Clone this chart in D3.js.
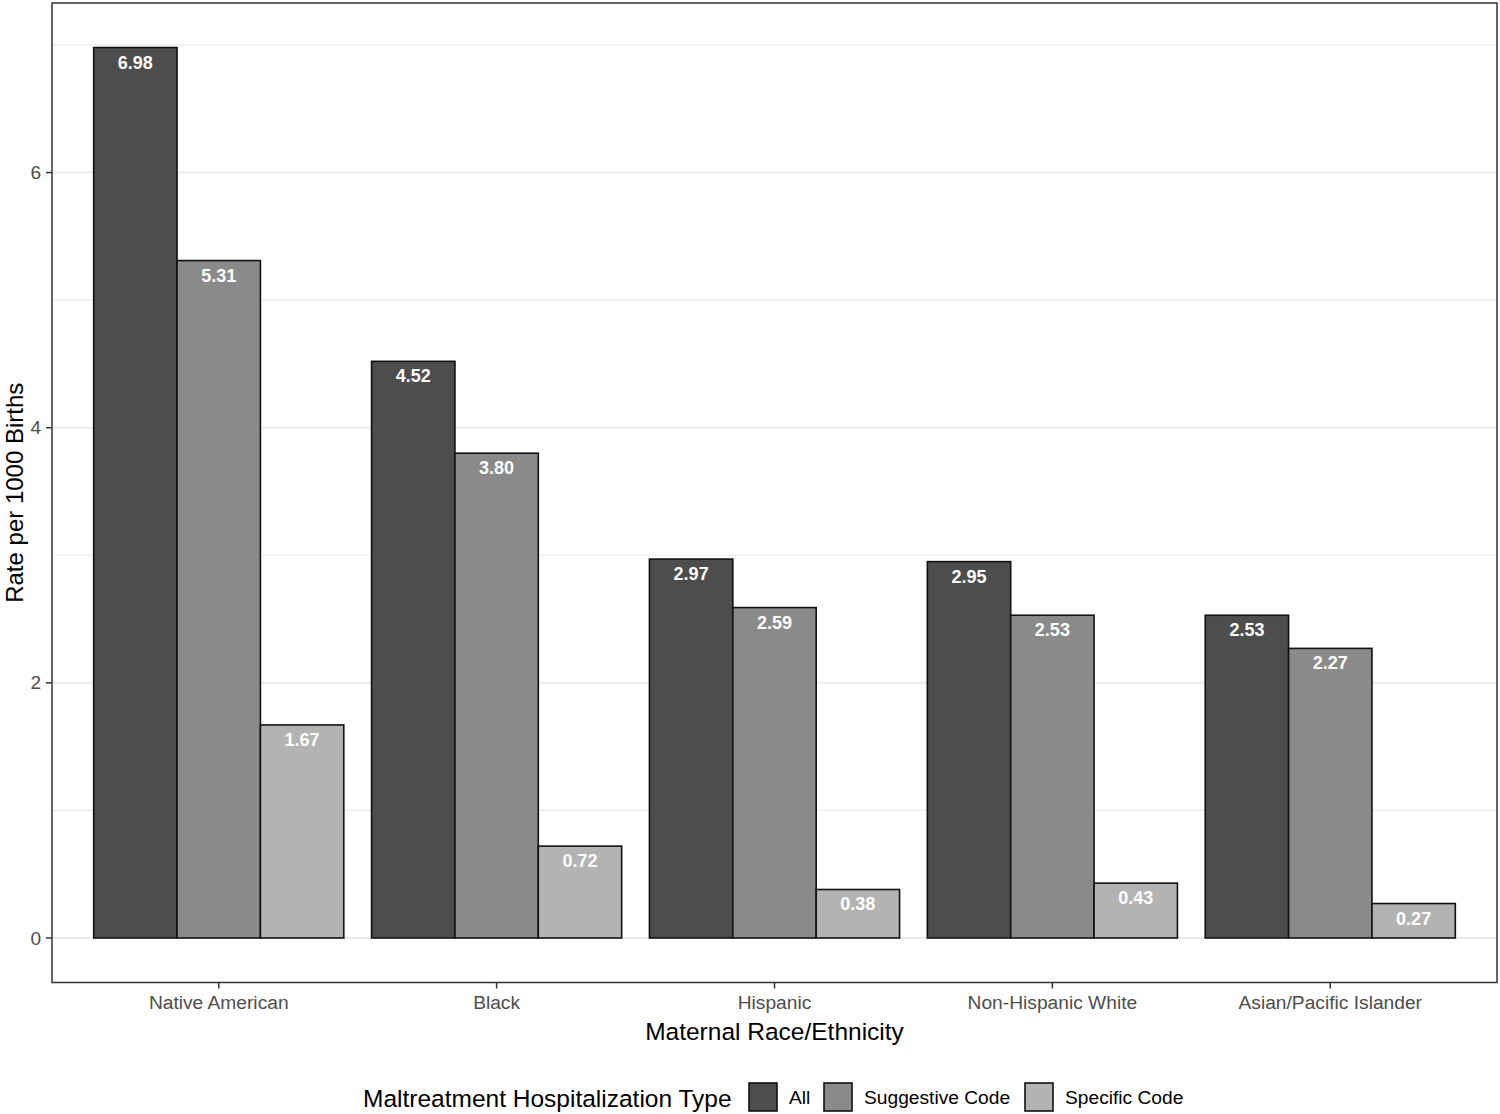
<!DOCTYPE html>
<html><head><meta charset="utf-8">
<script src="https://cdn.jsdelivr.net/npm/d3@7"></script>
<style>body{margin:0;background:#fff}svg{display:block}text{font-family:"Liberation Sans",Arial,sans-serif}</style>
</head><body>
<svg id="c" width="1500" height="1114"></svg>
<script>
const categories = ["Native American","Black","Hispanic","Non-Hispanic White","Asian/Pacific Islander"];
const seriesNames = ["All","Suggestive Code","Specific Code"];
const allValues = [6.98,4.52,2.97,2.95,2.53];
const suggestiveValues = [5.31,3.80,2.59,2.53,2.27];
const specificValues = [1.67,0.72,0.38,0.43,0.27];
const yTicks = [0,2,4,6];
const yMinor = [1,3,5,7];
const colors = ["#4d4d4d","#8a8a8a","#b3b3b3"];

const series = [allValues, suggestiveValues, specificValues];
const svg = d3.select("#c");
const L = 52, R = 1497, T = 3, B = 982.5;
const maxV = d3.max(series.flat());
const pad = maxV*0.05;
const y = d3.scaleLinear().domain([-pad, maxV+pad]).range([B, T]);
// ggplot discrete expand: 0.6 units each side
const unit = (R-L)/(categories.length-1+1.2);
const cx = d3.scalePoint().domain(categories).range([L+0.6*unit, R-0.6*unit]);
const groupW = 0.9*unit;
const inner = d3.scaleBand().domain(seriesNames).range([-groupW/2, groupW/2]).padding(0);

// grid
const g = svg.append("g");
g.selectAll(".minor").data(yMinor).join("line")
  .attr("x1",L).attr("x2",R).attr("y1",d=>y(d)).attr("y2",d=>y(d))
  .attr("stroke","#ebebeb").attr("stroke-width",1.2);
g.selectAll(".major").data(yTicks).join("line")
  .attr("x1",L).attr("x2",R).attr("y1",d=>y(d)).attr("y2",d=>y(d))
  .attr("stroke","#ebebeb").attr("stroke-width",2);

// bars
const rows = [];
categories.forEach((c,i)=>seriesNames.forEach((s,j)=>rows.push({c,s,j,v:series[j][i]})));
svg.append("g").selectAll("rect").data(rows).join("rect")
  .attr("x",d=>cx(d.c)+inner(d.s)).attr("width",inner.bandwidth())
  .attr("y",d=>y(d.v)).attr("height",d=>y(0)-y(d.v))
  .attr("fill",d=>colors[d.j]).attr("stroke","#111").attr("stroke-width",1.6);

svg.append("g").selectAll("text").data(rows).join("text")
  .attr("x",d=>cx(d.c)+inner(d.s)+inner.bandwidth()/2).attr("y",d=>y(d.v)+21)
  .attr("text-anchor","middle").attr("fill","#fff").attr("font-weight","bold").attr("font-size",18)
  .text(d=>d.v.toFixed(2));

// panel border
svg.append("rect").attr("x",L).attr("y",T).attr("width",R-L).attr("height",B-T)
  .attr("fill","none").attr("stroke","#333").attr("stroke-width",1.5);

// y axis
const ya = svg.append("g");
ya.selectAll("line").data(yTicks).join("line")
  .attr("x1",L-6).attr("x2",L).attr("y1",d=>y(d)).attr("y2",d=>y(d)).attr("stroke","#333").attr("stroke-width",1.5);
ya.selectAll("text").data(yTicks).join("text")
  .attr("x",L-11).attr("y",d=>y(d)).attr("dy","0.35em").attr("text-anchor","end")
  .attr("fill","#4d4d4d").attr("font-size",19).text(d=>d);

// x axis
const xa = svg.append("g");
xa.selectAll("line").data(categories).join("line")
  .attr("x1",d=>cx(d)).attr("x2",d=>cx(d)).attr("y1",B).attr("y2",B+6).attr("stroke","#333").attr("stroke-width",1.5);
xa.selectAll("text").data(categories).join("text")
  .attr("x",d=>cx(d)).attr("y",1009).attr("text-anchor","middle")
  .attr("fill","#4d4d4d").attr("font-size",19.2).text(d=>d);

svg.append("text").attr("x",(L+R)/2).attr("y",1040).attr("text-anchor","middle")
  .attr("font-size",24.5).attr("fill","#000").text("Maternal Race/Ethnicity");
svg.append("text").attr("transform",`translate(22.5,${(T+B)/2}) rotate(-90)`).attr("text-anchor","middle")
  .attr("font-size",24).attr("fill","#000").text("Rate per 1000 Births");

// legend
const lg = svg.append("g");
lg.append("text").attr("x",363).attr("y",1107).attr("font-size",24.5).attr("fill","#000").text("Maltreatment Hospitalization Type");
const keyX = [749,824,1025];
seriesNames.forEach((s,j)=>{
  lg.append("rect").attr("x",keyX[j]).attr("y",1083).attr("width",28).attr("height",28)
    .attr("fill",colors[j]).attr("stroke","#111").attr("stroke-width",1.6);
  lg.append("text").attr("x",keyX[j]+40).attr("y",1104).attr("font-size",19.2).attr("fill","#000").text(s);
});
</script>
</body></html>
